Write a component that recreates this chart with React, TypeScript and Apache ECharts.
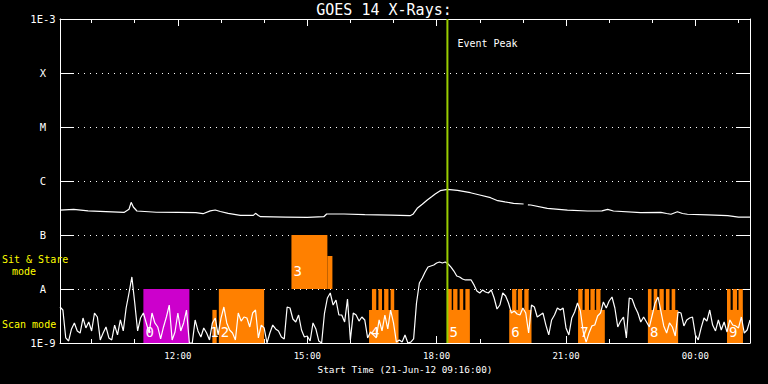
import React, { useEffect, useRef } from "react";
import * as echarts from "echarts";

const FONT = '"DejaVu Sans Mono", monospace';
const TITLE = "GOES 14 X-Rays:";
const X_NAME = "Start Time (21-Jun-12 09:16:00)";
const START_TIME = "09:16";
const END_TIME = "01:16";
const SHORT_CADENCE_MIN = 4;

// GOES short channel (0.5-4 A), units of 1e-9 W/m^2, one sample every 4 minutes from 09:16
const shortFlux = [
  4.64, 4.08, 1.24, 1.09, 1.82, 2.35, 1.67, 1.53, 2.9, 1.9,
  2.45, 1.67, 3.59, 3.03, 1.14, 1.53, 1.98, 1.24, 1.14, 2.15,
  1.41, 2.67, 1.67, 4.45, 8.43, 16.7, 5.51, 1.67, 2.9, 3.59,
  2.35, 1.53, 3.59, 2.35, 1.98, 1.19, 1.98, 3.03, 5.05, 1.14,
  1.6, 3.59, 1.67, 2.35, 4.08, 1.0, 1.0, 2.67, 1.67, 1.29,
  1.9, 1.53, 1.14, 2.35, 2.9, 1.41, 2.9, 4.64, 2.35, 1.74,
  1.53, 1.14, 3.59, 2.55, 3.03, 2.9, 1.98, 3.59, 4.08, 1.24,
  2.15, 1.9, 1.0, 1.53, 2.15, 1.82, 1.67, 1.29, 1.19, 4.64,
  4.45, 2.78, 2.45, 3.3, 1.74, 1.29, 1.35, 1.09, 2.35, 1.82,
  1.09, 1.0, 3.59, 6.81, 8.43, 5.05, 6.25, 3.3, 3.3, 2.45,
  6.53, 1.14, 3.59, 3.3, 2.55, 3.03, 2.67, 1.24, 1.6, 1.41,
  1.24, 2.67, 1.67, 3.3, 1.82, 4.08, 2.35, 1.04, 1.14, 1.04,
  1.41, 1.0, 1.04, 1.19, 5.51, 12.9, 16.0, 20.6, 25.5, 26.7,
  27.8, 30.3, 31.6, 30.3, 31.6, 29.0, 25.5, 21.5, 17.4, 16.7,
  15.3, 14.7, 14.7, 14.7, 11.9, 9.18, 8.43, 9.58, 8.8, 8.43,
  9.58, 6.81, 4.26, 5.05, 8.43, 7.42, 5.51, 3.59, 3.91, 3.44,
  3.3, 4.45, 3.59, 1.53, 5.05, 4.64, 3.03, 3.3, 3.59, 2.15,
  1.41, 2.67, 3.3, 4.45, 4.08, 4.45, 1.9, 1.41, 2.9, 3.75,
  5.51, 3.91, 1.6, 1.04, 1.53, 2.07, 2.15, 3.16, 3.59, 5.74,
  4.45, 5.99, 7.11, 4.45, 1.98, 2.55, 3.03, 1.24, 6.81, 6.53,
  4.64, 3.59, 2.45, 3.03, 2.45, 1.98, 3.3, 5.51, 7.11, 3.91,
  2.07, 1.53, 2.35, 1.98, 1.35, 3.75, 3.59, 2.07, 2.67, 2.9,
  3.03, 1.41, 1.14, 1.9, 2.9, 2.55, 4.08, 2.15, 1.67, 2.67,
  1.74, 2.45, 1.6, 2.67, 2.15, 2.07, 1.9, 3.03, 1.53, 1.74,
  2.67,
];

// GOES long channel (1-8 A), units of 1e-7 W/m^2
const longTimes = [
  "09:16", "09:35", "09:55", "10:20", "10:45", "10:52", "10:55", "10:58", "11:03", "11:30",
  "12:00", "12:25", "12:35", "12:45", "12:52", "12:59", "13:10", "13:27", "13:45", "13:48",
  "13:52", "13:55", "14:30", "15:00", "15:23", "15:27", "15:51", "16:20", "16:56", "17:23",
  "17:27", "17:33", "17:40", "17:47", "17:53", "17:58", "18:05", "18:15", "18:29", "18:47",
  "19:00", "19:15", "19:25", "19:35", "19:47", "20:01", "20:04", "20:07", "20:11", "20:34",
  "21:02", "21:30", "21:50", "21:58", "22:06", "22:44", "23:12", "23:20", "23:26", "23:35",
  "23:42", "23:49", "00:17", "00:45", "01:00", "01:16",
];
const longFlux: (number | null)[] = [
  2.9, 2.99, 2.8, 2.72, 2.62, 3.0, 4.03, 3.3, 2.78, 2.64,
  2.62, 2.59, 2.48, 2.8, 2.9, 2.72, 2.52, 2.31, 2.31, 2.52,
  2.3, 2.18, 2.15, 2.12, 2.18, 2.45, 2.45, 2.38, 2.33, 2.28,
  2.42, 3.12, 3.7, 4.45, 5.1, 5.74, 6.61, 7.02, 6.73, 6.07,
  5.5, 4.91, 4.32, 4.1, 3.86, 3.75, null, 3.62, 3.59, 3.12,
  2.9, 2.78, 2.8, 2.99, 2.78, 2.59, 2.63, 2.5, 2.42, 2.7,
  2.5, 2.42, 2.35, 2.28, 2.15, 2.15,
];

const yExponents = [-9, -8, -7, -6, -5, -4, -3];
const yTickLabels = ["1E-9", "A", "B", "C", "M", "X", "1E-3"];

const EVENT_PEAK = "18:15";
const EVENT_LABEL = "Event Peak";

const MODE_LABELS = ["Sit & Stare", "mode", "Scan mode"];

// observation segments
const obsStart = [
  "11:12", "12:48", "12:57", "14:38", "15:28",
  "16:26", "16:30", "16:39", "16:47", "16:56",
  "18:15", "18:15", "18:23", "18:32", "18:40",
  "19:41", "19:45", "19:53", "20:02",
  "21:17", "21:17", "21:26", "21:34", "21:42",
  "22:54", "22:54", "23:02", "23:10", "23:19", "23:27",
  "00:44", "00:44", "00:52", "01:00",
];
const obsEnd = [
  "12:16", "12:54", "14:00", "15:28", "15:35",
  "17:07", "16:36", "16:44", "16:53", "17:01",
  "18:46", "18:21", "18:29", "18:37", "18:46",
  "20:12", "19:51", "19:59", "20:08",
  "21:54", "21:23", "21:32", "21:40", "21:48",
  "23:36", "22:59", "23:07", "23:16", "23:24", "23:32",
  "01:06", "00:49", "00:58", "01:06",
];
const obsMode = [
  "scan", "scan", "scan", "stare", "stare",
  "scan", "scan", "scan", "scan", "scan",
  "scan", "scan", "scan", "scan", "scan",
  "scan", "scan", "scan", "scan",
  "scan", "scan", "scan", "scan", "scan",
  "scan", "scan", "scan", "scan", "scan", "scan",
  "scan", "scan", "scan", "scan",
];
const obsLevel = [
  "full", "half", "full", "full", "half",
  "half", "full", "full", "full", "full",
  "half", "full", "full", "full", "full",
  "half", "full", "full", "full",
  "half", "full", "full", "full", "full",
  "half", "full", "full", "full", "full", "full",
  "half", "full", "full", "full",
];
const obsLabel = [
  "0", "1", "2", "3", "",
  "4", "", "", "", "",
  "5", "", "", "", "",
  "6", "", "", "",
  "7", "", "", "", "",
  "8", "", "", "", "", "",
  "9", "", "", "",
];
const obsColor = [
  "#cc00cc", "#ff8000", "#ff8000", "#ff8000", "#ff8000",
  "#ff8000", "#ff8000", "#ff8000", "#ff8000", "#ff8000",
  "#ff8000", "#ff8000", "#ff8000", "#ff8000", "#ff8000",
  "#ff8000", "#ff8000", "#ff8000", "#ff8000",
  "#ff8000", "#ff8000", "#ff8000", "#ff8000", "#ff8000",
  "#ff8000", "#ff8000", "#ff8000", "#ff8000", "#ff8000", "#ff8000",
  "#ff8000", "#ff8000", "#ff8000", "#ff8000",
];
// band for each mode: [bottom, half top, full top] in W/m^2
const modeBand: Record<string, number[]> = {
  scan: [1e-9, 4.1e-9, 1e-8],
  stare: [1e-8, 4.1e-8, 1e-7],
};

function toHours(t: string): number {
  const [h, m] = t.split(":").map(Number);
  const hh = h < 9 ? h + 24 : h;
  return hh + m / 60;
}
function pad(n: number) {
  return n < 10 ? "0" + n : "" + n;
}

export default function App() {
  const ref = useRef<HTMLDivElement>(null);
  useEffect(() => {
    if (!ref.current) return;
    const chart = echarts.init(ref.current, undefined, { renderer: "svg" });
    const startH = toHours(START_TIME);
    const endH = toHours(END_TIME);

    const shortData = shortFlux.map((v, i) => [startH + (i * SHORT_CADENCE_MIN) / 60, v * 1e-9]);
    const longData = longTimes.map((t, i) => [toHours(t), longFlux[i] == null ? null : (longFlux[i] as number) * 1e-7]);
    const obsData = obsStart.map((s, i) => {
      const band = modeBand[obsMode[i]];
      return [toHours(s), toHours(obsEnd[i]), band[0], obsLevel[i] === "full" ? band[2] : band[1]];
    });
    const labelIdx = obsLabel.map((l, i) => (l ? i : -1)).filter((i) => i >= 0);
    const labelData = labelIdx.map((i) => obsData[i]);
    const peakH = toHours(EVENT_PEAK);

    const white = "#ffffff";
    const fmtTime = (v: number) => {
      const tot = Math.round(v * 60);
      return pad(Math.floor(tot / 60) % 24) + ":" + pad(tot % 60);
    };
    const xCommon = {
      type: "value" as const,
      min: startH,
      max: endH,
      splitNumber: 5,
      axisLine: { lineStyle: { color: white, width: 1 } },
      axisTick: { inside: true, length: 7, lineStyle: { color: white } },
      minorTick: { show: true, splitNumber: 3, length: 4, lineStyle: { color: white } },
      splitLine: { show: false },
    };
    const yCommon = {
      type: "log" as const,
      logBase: 10,
      min: 1e-9,
      max: 1e-3,
      axisLine: { show: true, lineStyle: { color: white, width: 1 } },
      axisTick: { show: true, inside: true, length: 14, lineStyle: { color: white } },
    };

    chart.setOption({
      animation: false,
      backgroundColor: "#000000",
      title: {
        text: TITLE,
        left: "center",
        top: 2,
        padding: 0,
        textStyle: { color: white, fontSize: 15, fontWeight: "normal", fontFamily: FONT },
      },
      grid: { left: 60, right: 18, top: 19, bottom: 41 },
      xAxis: [
        {
          ...xCommon,
          position: "bottom",
          axisLabel: {
            color: white,
            fontSize: 9,
            fontFamily: FONT,
            margin: 8,
            showMinLabel: false,
            showMaxLabel: false,
            formatter: fmtTime,
          },
          name: X_NAME,
          nameLocation: "middle",
          nameGap: 18,
          nameTextStyle: { color: white, fontSize: 9.4, fontFamily: FONT },
        },
        {
          ...xCommon,
          position: "top",
          axisLabel: { show: false },
        },
      ],
      yAxis: [
        {
          ...yCommon,
          position: "left",
          axisLabel: {
            color: white,
            fontSize: 10.5,
            fontFamily: FONT,
            align: "center",
            margin: 17,
            formatter: (v: number) => {
              const e = Math.round(Math.log10(v));
              const k = yExponents.indexOf(e);
              return k >= 0 ? yTickLabels[k] : "";
            },
          },
          splitLine: { show: true, lineStyle: { color: white, type: [1, 5], width: 1 } },
        },
        {
          ...yCommon,
          position: "right",
          axisLabel: { show: false },
          splitLine: { show: false },
        },
      ],
      graphic: [
        { type: "text", x: 2, y: 259, style: { text: MODE_LABELS[0], fill: "#ffff00", font: "10px " + FONT, verticalAlign: "middle" }, z: 10 },
        { type: "text", x: 12, y: 271, style: { text: MODE_LABELS[1], fill: "#ffff00", font: "10px " + FONT, verticalAlign: "middle" }, z: 10 },
        { type: "text", x: 2, y: 324, style: { text: MODE_LABELS[2], fill: "#ffff00", font: "10px " + FONT, verticalAlign: "middle" }, z: 10 },
      ],
      series: [
        {
          type: "custom",
          z: 1,
          silent: true,
          encode: { x: [0, 1], y: [2, 3] },
          data: obsData,
          renderItem: (params: any, api: any) => {
            const i = params.dataIndex;
            const p0 = api.coord([api.value(0), api.value(2)]);
            const p1 = api.coord([api.value(1), api.value(3)]);
            return {
              type: "rect",
              shape: { x: p0[0], y: p1[1], width: p1[0] - p0[0], height: p0[1] - p1[1] },
              style: { fill: obsColor[i] },
            };
          },
        },
        {
          type: "custom",
          z: 2,
          silent: true,
          encode: { x: [0, 1], y: [2, 3] },
          data: labelData,
          renderItem: (params: any, api: any) => {
            const i = labelIdx[params.dataIndex];
            const p0 = api.coord([api.value(0), api.value(2)]);
            const p1 = api.coord([api.value(1), api.value(3)]);
            const w = p1[0] - p0[0];
            const narrow = w < 10;
            return {
              type: "text",
              x: narrow ? p0[0] + w / 2 : p0[0] + 2,
              y: p0[1] - (obsMode[i] === "scan" ? 4 : 11),
              style: {
                text: obsLabel[i],
                fill: white,
                font: "14px " + FONT,
                verticalAlign: "bottom",
                align: narrow ? "center" : "left",
              },
            };
          },
        },
        {
          type: "line",
          z: 3,
          data: shortData,
          symbol: "none",
          lineStyle: { color: white, width: 1.2 },
          silent: true,
        },
        {
          type: "line",
          z: 3,
          data: longData,
          symbol: "none",
          connectNulls: false,
          lineStyle: { color: white, width: 1.2 },
          silent: true,
        },
        {
          type: "custom",
          z: 4,
          silent: true,
          encode: { x: 0, y: [1, 2] },
          data: [[peakH, 1e-9, 1e-3]],
          renderItem: (params: any, api: any) => {
            const top = api.coord([api.value(0), api.value(2)]);
            const bot = api.coord([api.value(0), api.value(1)]);
            return {
              type: "group",
              children: [
                {
                  type: "line",
                  shape: { x1: top[0], y1: top[1], x2: bot[0], y2: bot[1] },
                  style: { stroke: "#99cc00", lineWidth: 2 },
                },
                {
                  type: "text",
                  x: top[0] + 10,
                  y: top[1] + 24,
                  style: { text: EVENT_LABEL, fill: white, font: "10px " + FONT, verticalAlign: "middle" },
                },
              ],
            };
          },
        },
      ],
    });
    return () => chart.dispose();
  }, []);
  return (
    <div
      ref={ref}
      style={{ position: "fixed", left: 0, top: 0, width: 768, height: 384, background: "#000" }}
    />
  );
}
